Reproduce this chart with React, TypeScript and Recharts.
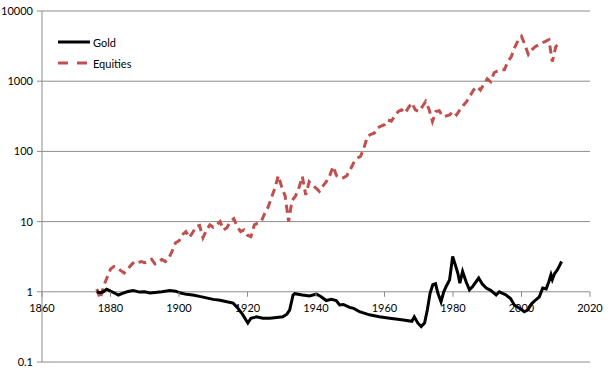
import React from 'react';
import { LineChart, Line, XAxis, YAxis, CartesianGrid, Legend } from 'recharts';

const goldYears = [
  1876.0, 1877.0, 1877.9, 1878.9, 1880.0, 1881.0, 1882.3, 1883.5, 1884.8, 1886.6, 1888.5, 1890.0,
  1891.5, 1893.0, 1895.0, 1897.3, 1899.0, 1900.5, 1902.2, 1904.0, 1906.0, 1908.0, 1910.0, 1912.0,
  1914.0, 1915.8, 1917.0, 1918.5, 1920.1, 1921.0, 1922.6, 1924.5, 1926.5, 1928.5, 1930.3, 1931.5,
  1932.3, 1933.3, 1933.8, 1936.0, 1938.1, 1940.1, 1941.5, 1943.0, 1944.5, 1945.9, 1946.9, 1948.0,
  1949.8, 1951.0, 1952.7, 1955.6, 1958.5, 1961.5, 1965.0, 1968.0, 1968.7, 1969.7, 1970.7, 1971.7,
  1972.5, 1973.3, 1974.1, 1974.9, 1975.6, 1976.5, 1977.3, 1978.0, 1979.0, 1979.9, 1980.7, 1981.4,
  1982.0, 1982.8, 1983.8, 1984.8, 1985.8, 1987.5, 1988.5, 1989.7, 1991.0, 1992.6, 1993.5, 1995.5,
  1996.8, 1997.9, 1999.5, 2000.8, 2001.8, 2003.0, 2004.2, 2005.2, 2006.2, 2007.2, 2008.0, 2008.6,
  2009.0, 2009.6, 2010.5, 2011.0, 2011.7,
];
const goldValues = [
  1.0, 0.97, 1.0, 1.09, 1.02, 0.97, 0.9, 0.95, 1.0, 1.04, 0.99, 1.0,
  0.96, 0.98, 1.0, 1.04, 1.02, 0.96, 0.92, 0.9, 0.86, 0.82, 0.78, 0.76,
  0.72, 0.69, 0.6, 0.48, 0.36, 0.42, 0.44, 0.42, 0.42, 0.43, 0.44, 0.48,
  0.55, 0.9, 0.94, 0.9, 0.87, 0.93, 0.85, 0.75, 0.78, 0.75, 0.65, 0.66,
  0.6, 0.58, 0.52, 0.47, 0.44, 0.42, 0.4, 0.38, 0.44, 0.36, 0.32, 0.36,
  0.55, 0.95, 1.26, 1.3, 0.95, 0.72, 1.0, 1.19, 1.48, 3.18, 2.4, 1.85,
  1.33, 1.95, 1.4, 1.07, 1.2, 1.57, 1.3, 1.13, 1.05, 0.9, 1.0, 0.9,
  0.8, 0.65, 0.58, 0.52, 0.55, 0.68, 0.77, 0.85, 1.13, 1.1, 1.4, 1.75,
  1.5, 1.8, 2.06, 2.3, 2.7,
];

const equityYears = [
  1876, 1877, 1878, 1879, 1880, 1881, 1882, 1883, 1884, 1885, 1886, 1887, 1888, 1889, 1890,
  1891, 1892, 1893, 1894, 1895, 1896, 1897, 1898, 1899, 1900, 1901, 1902, 1903, 1904, 1905,
  1906, 1907, 1908, 1909, 1910, 1911, 1912, 1913, 1914, 1915, 1916, 1917, 1918, 1919, 1920,
  1921, 1922, 1923, 1924, 1925, 1926, 1927, 1928, 1929, 1930, 1931, 1932, 1933, 1934, 1935,
  1936, 1937, 1938, 1939, 1940, 1941, 1942, 1943, 1944, 1945, 1946, 1947, 1948, 1949, 1950,
  1951, 1952, 1953, 1954, 1955, 1956, 1957, 1958, 1959, 1960, 1961, 1962, 1963, 1964, 1965,
  1966, 1967, 1968, 1969, 1970, 1971, 1972, 1973, 1974, 1975, 1976, 1977, 1978, 1979, 1980,
  1981, 1982, 1983, 1984, 1985, 1986, 1987, 1988, 1989, 1990, 1991, 1992, 1993, 1994, 1995,
  1996, 1997, 1998, 1999, 2000, 2001, 2002, 2003, 2004, 2005, 2006, 2007, 2008, 2009, 2010, 2011,
];
const equityValues = [
  1.1, 0.8, 1.2, 1.6, 2.1, 2.3, 2.2, 2.0, 1.85, 2.1, 2.4, 2.7, 2.6, 2.7, 2.6,
  2.7, 2.9, 2.5, 2.6, 2.9, 2.7, 3.0, 3.8, 5.0, 5.3, 6.5, 7.2, 5.9, 7.0, 8.5,
  8.8, 5.9, 7.5, 9.0, 8.3, 9.0, 10, 7.6, 8.2, 10, 11, 8.5, 7.2, 7.6, 6.4,
  6.1, 9, 9.5, 10, 13, 16, 22, 30, 45, 31, 23, 10, 20, 23, 30,
  44, 24, 37, 33, 30, 27, 32, 37, 45, 61, 45, 42, 42, 45, 55,
  69, 80, 85, 112, 163, 175, 182, 217, 230, 240, 280, 270, 320, 370, 390,
  350, 420, 490, 390, 370, 430, 515, 400, 267, 370, 380, 315, 320, 330, 370,
  330, 390, 450, 515, 620, 750, 840, 750, 900, 1080, 980, 1320, 1400, 1450, 1450,
  1900, 2230, 3000, 3800, 4350, 3300, 2400, 2800, 3100, 3300, 3500, 3700, 3900, 1900, 3100, 3500,
];

const xTicks = [1860, 1880, 1900, 1920, 1940, 1960, 1980, 2000, 2020];
const yTicks = [0.1, 1, 10, 100, 1000, 10000];
const seriesNames = ['Gold', 'Equities'];

const goldData = goldYears.map((y, i) => ({ year: y, value: goldValues[i] }));
const equityData = equityYears.map((y, i) => ({ year: y, value: equityValues[i] }));

const W = 608;
const H = 371;
const X_AXIS_H = 9;
const MARGIN = { top: 11, right: 18, bottom: 0, left: 0 };
const PLOT_H = H - MARGIN.top - MARGIN.bottom - X_AXIS_H;
const GRID = '#8c8c8c';
const RED = '#C0504D';
const FONT = 'Lato, "Open Sans", sans-serif';

const XTick = (props: any) => {
  const { x, y, payload } = props;
  const yl = y - PLOT_H / 5;
  return (
    <g>
      <line x1={x} x2={x} y1={yl} y2={yl + 5} stroke={GRID} />
      <text x={x} y={yl + 16} textAnchor="middle" dominantBaseline="central" fontSize={11} fill="#000" fontFamily={FONT}>
        {payload.value}
      </text>
    </g>
  );
};

const LegendBox = () => (
  <svg width={120} height={46} style={{ display: 'block' }}>
    <line x1={8} x2={40} y1={12} y2={12} stroke="#000" strokeWidth={3} />
    <text x={43} y={12} dominantBaseline="central" fontSize={11} fontFamily={FONT} fill="#000">{seriesNames[0]}</text>
    <line x1={8} x2={38} y1={33} y2={33} stroke={RED} strokeWidth={3} strokeDasharray="10 9" />
    <text x={43} y={33} dominantBaseline="central" fontSize={11} fontFamily={FONT} fill="#000">{seriesNames[1]}</text>
  </svg>
);

export default function App() {
  return (
    <div style={{ position: 'absolute', left: 0, top: 0, background: '#fff' }}>
      <LineChart width={W} height={H} margin={MARGIN}>
        <CartesianGrid horizontal vertical={false} stroke={GRID} />
        <XAxis
          dataKey="year"
          type="number"
          domain={[1860, 2020]}
          ticks={xTicks}
          allowDataOverflow
          height={X_AXIS_H}
          axisLine={false}
          tickLine={false}
          tickSize={0}
          tickMargin={0}
          tick={<XTick />}
          interval={0}
        />
        <YAxis
          type="number"
          scale="log"
          domain={[0.1, 10000]}
          ticks={yTicks}
          allowDataOverflow
          width={42}
          stroke={GRID}
          tickSize={5}
          tickMargin={4}
          interval={0}
          tick={{ fontSize: 11, fill: '#000', fontFamily: FONT }}
          tickFormatter={(v: number) => (v < 1 ? '0.1' : String(v))}
        />
        <Legend
          layout="vertical"
          align="center"
          verticalAlign="middle"
          wrapperStyle={{ left: 50, top: 30, width: 'auto', height: 'auto' }}
          content={() => <LegendBox />}
        />
        <Line
          data={equityData}
          dataKey="value"
          name={seriesNames[1]}
          stroke={RED}
          strokeWidth={3}
          strokeDasharray="8 5"
          dot={false}
          isAnimationActive={false}
          type="linear"
        />
        <Line
          data={goldData}
          dataKey="value"
          name={seriesNames[0]}
          stroke="#000"
          strokeWidth={3}
          dot={false}
          isAnimationActive={false}
          type="linear"
        />
      </LineChart>
    </div>
  );
}
